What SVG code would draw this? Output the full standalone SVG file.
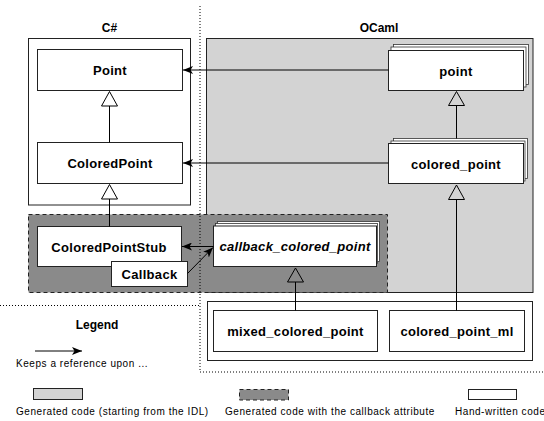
<svg xmlns="http://www.w3.org/2000/svg" width="544" height="421" viewBox="0 0 544 421">
<defs>
<style>
.frame{stroke:#222;stroke-width:1}
.node{fill:#fff;stroke:#222;stroke-width:1}
.back{fill:#fff;stroke:#333;stroke-width:0.8}
.lbl{font-family:"Liberation Sans",Arial,sans-serif;font-weight:bold;font-size:13px;letter-spacing:0.3px;text-anchor:middle;fill:#000}
.ital{font-style:italic}
.title{font-family:"Liberation Sans",Arial,sans-serif;font-weight:bold;font-size:12px;text-anchor:middle;fill:#000}
.leg{font-family:"Liberation Sans",Arial,sans-serif;font-size:10px;letter-spacing:0.55px;fill:#000}
.line{fill:none;stroke:#000;stroke-width:1}
.tri{fill:none;stroke:#000;stroke-width:1}
.sep{fill:none;stroke:#000;stroke-width:1;stroke-dasharray:1,2}
</style>
<marker id="arr" markerUnits="userSpaceOnUse" markerWidth="11" markerHeight="8" refX="10" refY="4" orient="auto">
<path d="M0,0 L10,4 L0,8 L2.5,4 z" fill="#000"/>
</marker>
</defs>
<rect x="0" y="0" width="544" height="421" fill="#fff"/>

<g id="csharp-frame">
<rect class="frame" x="28.5" y="38.5" width="162" height="166.5" fill="#fff"/>
<text class="title" x="109.5" y="32">C#</text>
</g>
<g id="ocaml-frame">
<rect class="frame" x="206.5" y="38.5" width="326.5" height="254" fill="#d3d3d3"/>
<text class="title" x="379" y="32">OCaml</text>
</g>
<g id="callback-region">
<rect x="28.5" y="214.5" width="359" height="78" fill="#8a8a8a" stroke="#222" stroke-width="1" stroke-dasharray="4,3"/>
</g>
<g id="handwritten-frame">
<rect class="frame" x="207.5" y="301.5" width="325" height="59" fill="#fff"/>
</g>

<g id="separators">
<path class="sep" d="M200,6 V372 H544"/>
<path class="sep" d="M0,305.5 H200"/>
</g>

<g id="Point">
<rect class="node" x="37.5" y="49.5" width="145" height="41"/>
<text class="lbl" x="110" y="75">Point</text>
</g>
<g id="ColoredPoint">
<rect class="node" x="37.5" y="142.5" width="145" height="41"/>
<text class="lbl" x="110" y="168">ColoredPoint</text>
</g>
<g id="ColoredPointStub">
<rect class="node" x="37.5" y="226.5" width="144" height="40"/>
<text class="lbl" x="109" y="251.5">ColoredPointStub</text>
</g>
<g id="Callback">
<rect class="node" x="111.5" y="261.5" width="76" height="25"/>
<text class="lbl" x="149.5" y="278.5">Callback</text>
</g>

<g id="point">
<rect class="back" x="393.5" y="44.5" width="135" height="40"/>
<rect class="back" x="391" y="47" width="135" height="40"/>
<rect class="node" x="388.5" y="50.5" width="135" height="40"/>
<text class="lbl" x="456" y="75.5">point</text>
</g>
<g id="colored_point">
<rect class="back" x="393.5" y="138.5" width="134" height="40"/>
<rect class="back" x="391" y="141" width="134" height="40"/>
<rect class="node" x="388.5" y="143.5" width="135" height="40"/>
<text class="lbl" x="456" y="168.5">colored_point</text>
</g>
<g id="callback_colored_point">
<rect class="back" x="217.5" y="221.5" width="162" height="40"/>
<rect class="back" x="215.5" y="223.5" width="162" height="40"/>
<rect class="node" x="213.5" y="226" width="163" height="40.5"/>
<text class="lbl ital" x="295" y="251">callback_colored_point</text>
</g>
<g id="mixed_colored_point">
<rect class="node" x="213.5" y="310.5" width="164" height="41"/>
<text class="lbl" x="295.5" y="335.5">mixed_colored_point</text>
</g>
<g id="colored_point_ml">
<rect class="node" x="389.5" y="310.5" width="135" height="41"/>
<text class="lbl" x="457" y="335.5">colored_point_ml</text>
</g>

<g id="connectors">
<line class="line" x1="388.5" y1="70" x2="183" y2="70" marker-end="url(#arr)"/>
<line class="line" x1="388.5" y1="163" x2="183" y2="163" marker-end="url(#arr)"/>
<line class="line" x1="213.5" y1="246.5" x2="182" y2="246.5" marker-end="url(#arr)"/>
<line class="line" x1="187.5" y1="273.5" x2="213" y2="247.5" marker-end="url(#arr)"/>
<line class="line" x1="109.5" y1="142.5" x2="109.5" y2="106"/>
<polygon class="tri" points="109.5,91.5 101.5,106 117.5,106"/>
<line class="line" x1="109.5" y1="226.5" x2="109.5" y2="199"/>
<polygon class="tri" points="109.5,184.5 101.5,199 117.5,199"/>
<line class="line" x1="456.5" y1="138.5" x2="456.5" y2="105.5"/>
<polygon class="tri" points="456.5,91.5 448.5,105.5 464.5,105.5"/>
<line class="line" x1="456.5" y1="310.5" x2="456.5" y2="199.5"/>
<polygon class="tri" points="456.5,185 448.5,199.5 464.5,199.5"/>
<line class="line" x1="295.5" y1="310.5" x2="295.5" y2="282"/>
<polygon class="tri" points="295.5,268 287.5,282 303.5,282"/>
</g>

<g id="legend">
<text class="title" x="97" y="329" style="font-size:12px">Legend</text>
<line class="line" x1="35" y1="351" x2="82" y2="351" marker-end="url(#arr)"/>
<text class="leg" x="16" y="367">Keeps a reference upon ...</text>
<rect x="33.5" y="388.5" width="49" height="11" fill="#d3d3d3" stroke="#222"/>
<text class="leg" x="16" y="415">Generated code (starting from the IDL)</text>
<rect x="239.5" y="389.5" width="49" height="10.5" fill="#8a8a8a" stroke="#222" stroke-dasharray="4,3"/>
<text class="leg" x="225" y="415">Generated code with the callback attribute</text>
<rect x="468.5" y="389.5" width="48" height="10" fill="#fff" stroke="#222"/>
<text class="leg" x="455" y="415">Hand-written code</text>
</g>
</svg>
